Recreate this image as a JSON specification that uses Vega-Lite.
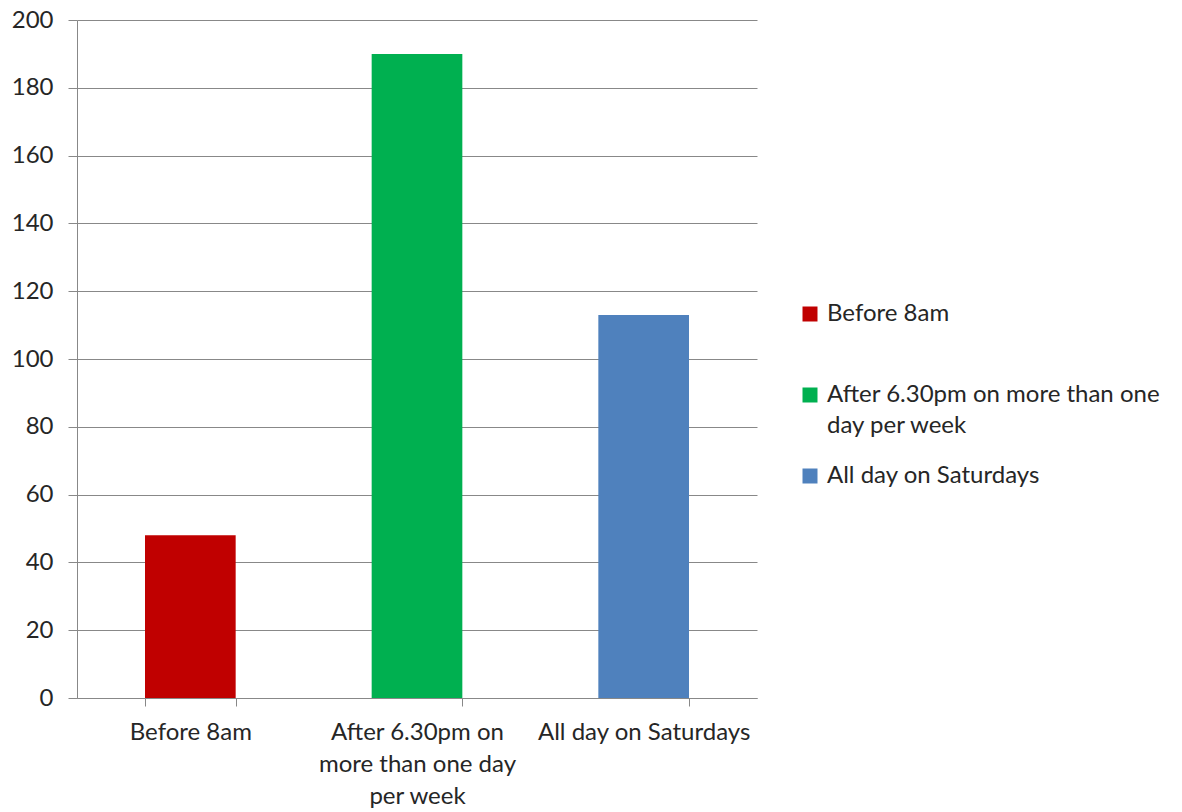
{
  "$schema": "https://vega.github.io/schema/vega-lite/v6.json",
  "width": 680,
  "height": 678,
  "autosize": {"type": "none"},
  "padding": {"left": 77, "top": 20, "right": 425, "bottom": 114},
  "background": "white",
  "config": {
    "view": {"stroke": null},
    "font": "Lato",
    "style": {"guide-label": {"lineHeight": 31}}
  },
  "data": {
    "values": [
      {"category": "Before 8am", "value": 48},
      {"category": "After 6.30pm on more than one day per week", "value": 190},
      {"category": "All day on Saturdays", "value": 113}
    ]
  },
  "mark": {"type": "bar"},
  "encoding": {
    "x": {
      "field": "category",
      "type": "nominal",
      "sort": null,
      "scale": {"paddingInner": 0.6, "paddingOuter": 0.3},
      "axis": {
        "title": null,
        "labelAngle": 0,
        "tickBand": "extent",
        "labelExpr": "datum.label == 'After 6.30pm on more than one day per week' ? ['After 6.30pm on', 'more than one day', 'per week'] : datum.label",
        "labelLineHeight": 32,
        "labelFontSize": 24,
        "labelColor": "#262626",
        "labelPadding": 14,
        "labelBaseline": "top",
        "labelLimit": 400,
        "domainColor": "#888888",
        "tickColor": "#888888",
        "tickSize": 8,
        "grid": false
      }
    },
    "y": {
      "field": "value",
      "type": "quantitative",
      "scale": {"domain": [0, 200], "nice": false},
      "axis": {
        "title": null,
        "values": [0, 20, 40, 60, 80, 100, 120, 140, 160, 180, 200],
        "labelFontSize": 24,
        "labelColor": "#262626",
        "labelPadding": 15,
        "tickSize": 9,
        "tickColor": "#888888",
        "domainColor": "#888888",
        "grid": true,
        "gridColor": "#888888",
        "gridOpacity": 1
      }
    },
    "color": {
      "field": "category",
      "type": "nominal",
      "scale": {
        "domain": ["Before 8am", "After 6.30pm on more than one day per week", "All day on Saturdays"],
        "range": ["#C00000", "#00B050", "#4F81BD"]
      },
      "legend": {
        "title": null,
        "orient": "none",
        "legendX": 721,
        "legendY": 282,
        "symbolType": "square",
        "symbolSize": 225,
        "symbolStrokeWidth": 0,
        "symbolOpacity": 1,
        "labelFontSize": 24,
        "labelColor": "#262626",
        "labelLimit": 400,
        "labelOffset": 5,
        "rowPadding": 26,
        "labelExpr": "datum.label == 'After 6.30pm on more than one day per week' ? ['After 6.30pm on more than one', 'day per week'] : [datum.label, '']"
      }
    }
  }
}
